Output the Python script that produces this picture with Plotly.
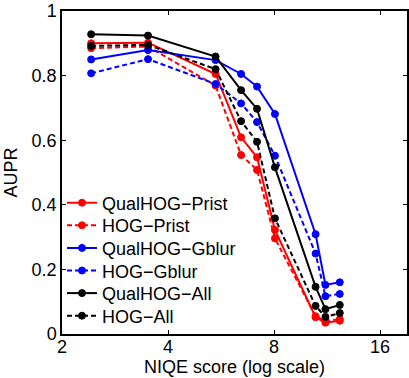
import plotly.graph_objects as go

niqe = [2.42, 3.51, 5.46, 6.45, 7.16, 8.05, 10.5, 11.2, 12.3]

qualhog_prist = [0.900, 0.902, 0.805, 0.609, 0.547, 0.322, 0.052, 0.035, 0.041]
hog_prist     = [0.885, 0.890, 0.769, 0.554, 0.508, 0.296, 0.055, 0.040, 0.046]
qualhog_gblur = [0.850, 0.879, 0.848, 0.805, 0.766, 0.681, 0.309, 0.152, 0.160]
hog_gblur     = [0.807, 0.851, 0.774, 0.714, 0.656, 0.552, 0.249, 0.117, 0.124]
qualhog_all   = [0.928, 0.924, 0.859, 0.755, 0.697, 0.516, 0.146, 0.077, 0.090]
hog_all       = [0.892, 0.895, 0.820, 0.659, 0.595, 0.358, 0.087, 0.053, 0.065]

series_names = ["QualHOG\u2212Prist", "HOG\u2212Prist", "QualHOG\u2212Gblur",
                "HOG\u2212Gblur", "QualHOG\u2212All", "HOG\u2212All"]
series_values = [qualhog_prist, hog_prist, qualhog_gblur, hog_gblur, qualhog_all, hog_all]
series_colors = ["#ff0000", "#ff0000", "#0000ff", "#0000ff", "#000000", "#000000"]
series_dashed = [False, True, False, True, False, True]

W, H = 409, 378
ML, MR, MT, MB = 62, 2, 11, 44
plot_h = H - MT - MB

font = dict(family="Liberation Sans, Arial, sans-serif", size=18, color="black")

fig = go.Figure()
legend_layouts = {}
row0, row_gap = 203, 22.6
for i, (name, vals, color, dashed) in enumerate(zip(series_names, series_values,
                                                    series_colors, series_dashed)):
    lg = "legend" if i == 0 else f"legend{i + 1}"
    fig.add_trace(go.Scatter(
        x=niqe, y=vals, name=name, mode="lines+markers", legend=lg,
        line=dict(color=color, width=2, dash="5px,3px" if dashed else "solid"),
        marker=dict(symbol="circle", size=7, color=color,
                    line=dict(color=color, width=1)),
    ))
    row_px = row0 + i * row_gap
    legend_layouts[lg] = dict(
        x=0.0, y=(H - MB - row_px) / plot_h, xanchor="left", yanchor="middle",
        bgcolor="rgba(0,0,0,0)", borderwidth=0, font=font, itemwidth=30,
    )

fig.update_layout(
    width=W, height=H,
    margin=dict(l=ML, r=MR, t=MT, b=MB, autoexpand=False),
    paper_bgcolor="white", plot_bgcolor="white",
    font=font,
    showlegend=True,
    xaxis=dict(type="log", range=[0.30103, 1.2808], automargin=False,
               tickvals=[2, 4, 8, 16], ticktext=["2", "4", "8", "16"],
               ticks="inside", ticklen=4, tickcolor="black", ticklabelstandoff=-4,
               showline=True, linecolor="black", linewidth=1.5, mirror="allticks",
               showgrid=False, zeroline=False,
               title=dict(text="NIQE score (log scale)", font=font, standoff=0)),
    yaxis=dict(range=[0, 1], automargin=False,
               tickvals=[0, 0.2, 0.4, 0.6, 0.8, 1],
               ticktext=["0", "0.2", "0.4", "0.6", "0.8", "1"],
               ticks="inside", ticklen=4, tickcolor="black",
               showline=True, linecolor="black", linewidth=1.5, mirror="allticks",
               showgrid=False, zeroline=False,
               title=dict(text="AUPR", font=font, standoff=9)),
    **legend_layouts,
)

fig.write_html("out.html", config={"displayModeBar": False},
               post_script="document.body.style.margin='0';")
